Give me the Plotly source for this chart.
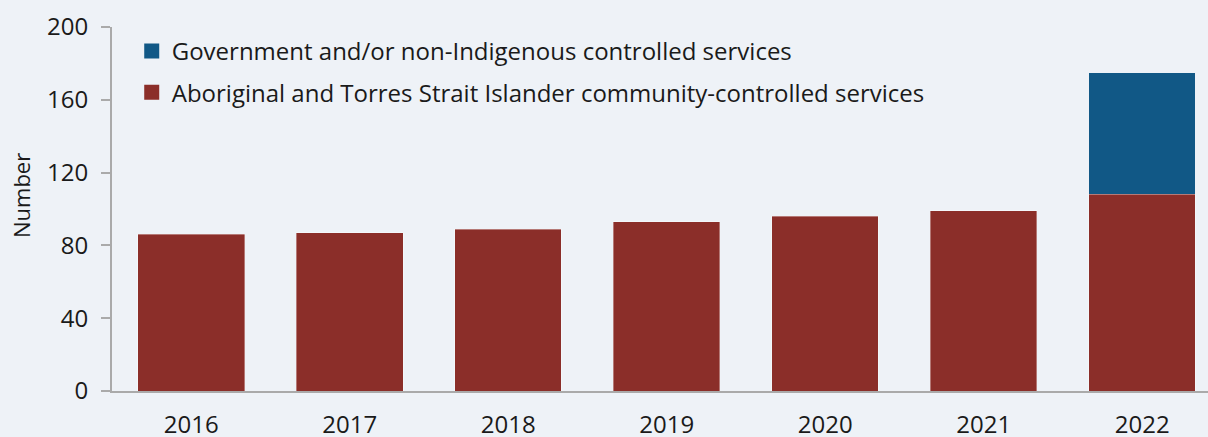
import plotly.graph_objects as go

years = ["2016", "2017", "2018", "2019", "2020", "2021", "2022"]
accho = [86, 87, 89, 93, 96, 99, 108]
govt = [0, 0, 0, 0, 0, 0, 67]
y_ticks = [0, 40, 80, 120, 160, 200]

NAME_A = "Aboriginal and Torres Strait Islander community-controlled services"
NAME_G = "Government and/or non-Indigenous controlled services"

RED = "#8B2E29"
BLUE = "#115886"
BG = "#EEF2F7"
FONT = "Open Sans"

fig = go.Figure()
fig.add_trace(go.Bar(
    x=years, y=accho, name=NAME_A, showlegend=False,
    marker=dict(color=RED, line=dict(color="rgba(255,255,255,0.45)", width=0.8)),
))
fig.add_trace(go.Bar(
    x=years, y=govt, name=NAME_G, showlegend=False,
    marker=dict(color=BLUE, line=dict(color="rgba(255,255,255,0.0)", width=0)),
))
# legend entries (larger square swatches)
fig.add_trace(go.Scatter(x=[None], y=[None], mode="markers", name=NAME_G,
                         legendgroup="g", marker=dict(symbol="square", size=15, color=BLUE)))
fig.add_trace(go.Scatter(x=[None], y=[None], mode="markers", name=NAME_A,
                         legendgroup="a", marker=dict(symbol="square", size=15, color=RED)))

fig.update_layout(
    width=1208, height=437,
    barmode="stack", bargap=0.328,
    paper_bgcolor=BG, plot_bgcolor=BG,
    margin=dict(l=112, r=0, t=27, b=46, autoexpand=False),
    font=dict(family=FONT, size=24, color="#1a1a1a"),
    legend=dict(x=0.018, y=0.9945, xanchor="left", yanchor="top",
                bgcolor="rgba(0,0,0,0)", font=dict(size=24),
                tracegroupgap=7, traceorder="grouped"),
    showlegend=True,
    annotations=[dict(text="Number", textangle=-90, xref="paper", yref="paper",
                      x=-0.083, y=0.5357, xanchor="center", yanchor="middle",
                      showarrow=False, font=dict(size=22))],
)
fig.update_xaxes(
    type="category", range=[-0.5, 6.415], automargin=False,
    showline=True, linecolor="#AAAAAA", linewidth=2,
    ticks="", showgrid=False, ticklabelstandoff=11,
)
fig.update_yaxes(
    range=[0, 200], tickvals=y_ticks, showgrid=False, zeroline=False,
    automargin=False,
    showline=True, linecolor="#AAAAAA", linewidth=2,
    ticks="outside", ticklen=9, tickcolor="#AAAAAA", tickwidth=2,
    ticklabelstandoff=8,
)

fig.write_html("out.html", config={"displayModeBar": False},
               post_script="document.body.style.margin='0';document.body.style.overflow='hidden';")
